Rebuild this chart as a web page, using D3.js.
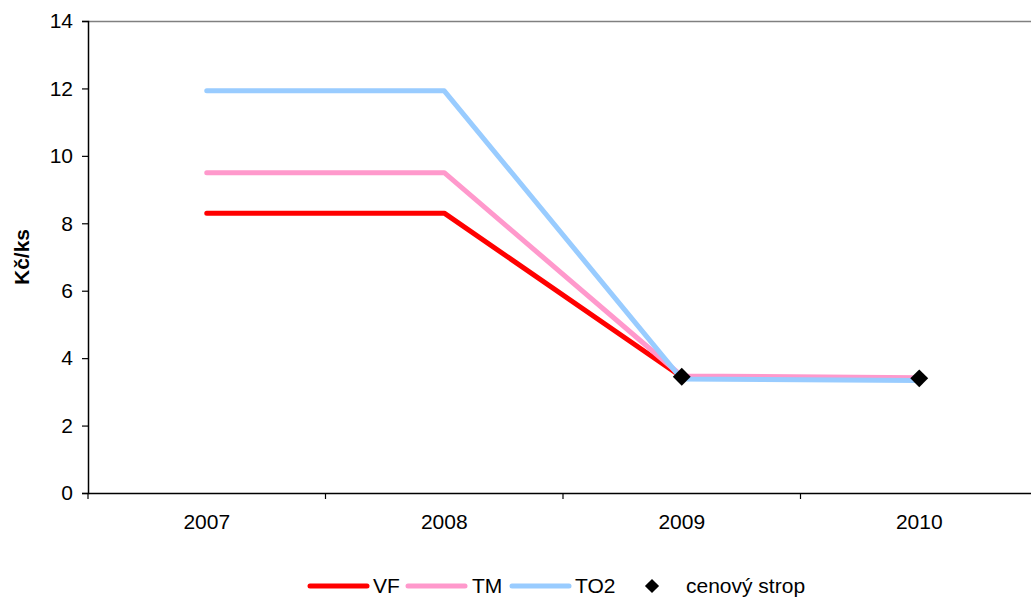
<!DOCTYPE html>
<html><head><meta charset="utf-8">
<script src="https://cdn.jsdelivr.net/npm/d3@7"></script>
<style>
html,body{margin:0;padding:0;background:#fff;}
svg{display:block;font-family:"Liberation Sans",Arial,sans-serif;}
</style></head>
<body>
<svg id="chart" width="1031" height="597"></svg>
<script>
const categories = ["2007","2008","2009","2010"];
const seriesNames = ["VF","TM","TO2"];
const vfValues = [8.3, 8.3, 3.44, 3.38];
const tmValues = [9.5, 9.5, 3.47, 3.42];
const to2Values = [11.93, 11.93, 3.38, 3.34];
const ceilingName = "cenový strop";
const ceilingValues = [null, null, 3.45, 3.4];
const yTicks = [0,2,4,6,8,10,12,14];
const yLabel = "Kč/ks";

const colors = {VF:"#FF0000", TM:"#FF99CC", TO2:"#99CCFF"};
const series = [
  {name:"VF", values:vfValues},
  {name:"TM", values:tmValues},
  {name:"TO2", values:to2Values}
];

const svg = d3.select("#chart");
const mLeft = 88, mTop = 21, mBottom = 493, mRight = 1038;
const fs = 21;

const x = d3.scaleBand().domain(categories).range([mLeft, mRight]).paddingInner(0).paddingOuter(0);
const y = d3.scaleLinear().domain([0,14]).range([mBottom, mTop]);

// plot area top border
svg.append("line").attr("x1", mLeft).attr("x2", 1031).attr("y1", mTop+0.5).attr("y2", mTop+0.5)
  .attr("stroke", "#808080").attr("stroke-width", 1.5);

// y axis
const yAxis = svg.append("g").attr("transform", `translate(${mLeft},0)`)
  .call(d3.axisLeft(y).tickValues(yTicks).tickSize(6).tickPadding(9).tickFormat(d3.format("d")));
yAxis.select(".domain").attr("stroke", "#000").attr("stroke-width", 1.5);
yAxis.selectAll(".tick line").attr("stroke", "#000").attr("stroke-width", 1.2);
yAxis.selectAll(".tick text").attr("font-size", fs).attr("fill", "#000").attr("font-family", "Liberation Sans, Arial, sans-serif");

// x axis
const xAxis = svg.append("g").attr("transform", `translate(0,${mBottom})`)
  .call(d3.axisBottom(x).tickSize(0).tickPadding(21));
xAxis.select(".domain").attr("stroke", "#000").attr("stroke-width", 1.5);
xAxis.selectAll(".tick text").attr("font-size", fs).attr("fill", "#000").attr("font-family", "Liberation Sans, Arial, sans-serif");
// boundary tick marks
const boundaries = categories.map(c => x(c));
svg.append("g").selectAll("line").data(boundaries).join("line")
  .attr("x1", d => d).attr("x2", d => d).attr("y1", mBottom).attr("y2", mBottom + 6)
  .attr("stroke", "#000").attr("stroke-width", 1.2);

// y label
svg.append("text").attr("transform", `translate(29,${(mTop+mBottom)/2}) rotate(-90)`)
  .attr("text-anchor", "middle").attr("font-size", fs).attr("font-weight", "bold").text(yLabel);

// lines
const cx = c => x(c) + x.bandwidth()/2;
const line = d3.line().x((d,i) => cx(categories[i])).y(d => y(d));
svg.append("g").selectAll("path").data(series).join("path")
  .attr("d", d => line(d.values))
  .attr("fill", "none").attr("stroke", d => colors[d.name])
  .attr("stroke-width", 5).attr("stroke-linecap", "round").attr("stroke-linejoin", "round");

// ceiling markers
const diamond = d3.symbol().type(d3.symbolSquare).size(160);
svg.append("g").selectAll("path").data(ceilingValues.map((v,i)=>({v, c:categories[i]})).filter(d => d.v != null)).join("path")
  .attr("d", diamond)
  .attr("transform", d => `translate(${cx(d.c)},${y(d.v)}) rotate(45)`)
  .attr("fill", "#000");

// legend
const legY = 585;
const legItems = [
  {name:"VF", x0:310, tx:373},
  {name:"TM", x0:408, tx:472},
  {name:"TO2", x0:512, tx:575}
];
const leg = svg.append("g");
legItems.forEach(it => {
  leg.append("line").attr("x1", it.x0).attr("x2", it.x0 + 57).attr("y1", legY + 1).attr("y2", legY + 1)
    .attr("stroke", colors[it.name]).attr("stroke-width", 5).attr("stroke-linecap", "round");
  leg.append("text").attr("x", it.tx).attr("y", legY).attr("dy", "0.36em")
    .attr("font-size", fs).text(it.name);
});
leg.append("path").attr("d", d3.symbol().type(d3.symbolSquare).size(100))
  .attr("transform", `translate(652,${legY + 1}) rotate(45)`).attr("fill", "#000");
leg.append("text").attr("x", 686).attr("y", legY).attr("dy", "0.36em")
  .attr("font-size", fs).text(ceilingName);
</script>
</body></html>
